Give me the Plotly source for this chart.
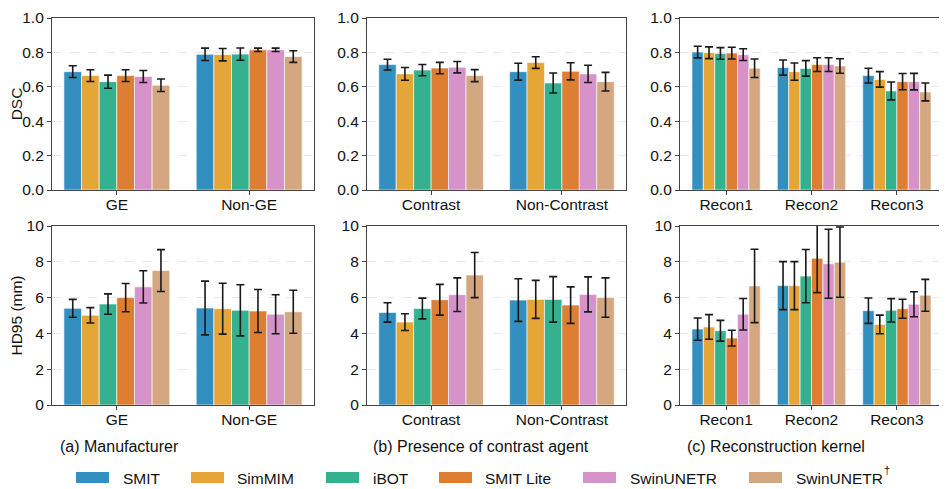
import plotly.graph_objects as go

W, H = 947, 489
OFF = 8  # page body margin offset in the browser

models = ["SMIT", "SimMIM", "iBOT", "SMIT Lite", "SwinUNETR", "SwinUNETR†"]
colors = ["#348fc1", "#e5a537", "#35b18f", "#dd7e33", "#d693c9", "#d5a781"]

cat_manu = ["GE", "Non-GE"]
cat_contrast = ["Contrast", "Non-Contrast"]
cat_recon = ["Recon1", "Recon2", "Recon3"]

# DSC mean / error, per model (rows) per category (cols)
dsc_manu = [[0.688, 0.789], [0.665, 0.787], [0.630, 0.790], [0.665, 0.815], [0.660, 0.815], [0.609, 0.776]]
dsc_manu_err = [[0.034, 0.036], [0.034, 0.036], [0.038, 0.036], [0.034, 0.010], [0.035, 0.010], [0.036, 0.034]]
dsc_con = [[0.729, 0.688], [0.675, 0.741], [0.697, 0.622], [0.709, 0.690], [0.714, 0.675], [0.665, 0.630]]
dsc_con_err = [[0.031, 0.049], [0.037, 0.034], [0.033, 0.058], [0.033, 0.050], [0.033, 0.050], [0.035, 0.054]]
dsc_rec = [[0.802, 0.712, 0.665], [0.798, 0.688, 0.643], [0.794, 0.707, 0.576],
           [0.796, 0.729, 0.630], [0.787, 0.729, 0.630], [0.708, 0.721, 0.570]]
dsc_rec_err = [[0.034, 0.044, 0.043], [0.034, 0.050, 0.045], [0.034, 0.045, 0.052],
               [0.034, 0.040, 0.047], [0.034, 0.040, 0.048], [0.054, 0.042, 0.052]]

# HD95 mean / error
hd_manu = [[5.40, 5.42], [5.01, 5.38], [5.64, 5.29], [6.00, 5.25], [6.60, 5.07], [7.51, 5.21]]
hd_manu_err = [[0.50, 1.50], [0.43, 1.42], [0.57, 1.43], [0.79, 1.20], [0.90, 1.09], [1.17, 1.20]]
hd_con = [[5.17, 5.86], [4.63, 5.90], [5.39, 5.90], [5.88, 5.58], [6.16, 6.18], [7.26, 6.00]]
hd_con_err = [[0.54, 1.19], [0.47, 1.06], [0.58, 1.27], [0.86, 1.02], [0.94, 0.98], [1.26, 1.10]]
hd_rec = [[4.24, 6.67, 5.27], [4.36, 6.67, 4.50], [4.15, 7.20, 5.29],
          [3.74, 8.20, 5.38], [5.07, 7.89, 5.63], [6.65, 7.98, 6.13]]
hd_rec_err = [[0.62, 1.34, 0.71], [0.69, 1.34, 0.52], [0.58, 1.49, 0.65],
              [0.44, 1.92, 0.53], [0.88, 1.93, 0.70], [2.05, 1.96, 0.89]]

captions = ["(a) Manufacturer", "(b) Presence of contrast agent", "(c) Reconstruction kernel"]


def px(x):
    return (x - OFF) / W


def py(y):
    return (H - (y - OFF)) / H


# layout (target pixels in the screenshot)
col_px = [(52, 314), (367, 626), (680, 943)]
row_px = [(18, 190), (226, 405)]

panels = [
    (0, 0, cat_manu, dsc_manu, dsc_manu_err),
    (0, 1, cat_contrast, dsc_con, dsc_con_err),
    (0, 2, cat_recon, dsc_rec, dsc_rec_err),
    (1, 0, cat_manu, hd_manu, hd_manu_err),
    (1, 1, cat_contrast, hd_con, hd_con_err),
    (1, 2, cat_recon, hd_rec, hd_rec_err),
]

fig = go.Figure()
FONT = "Liberation Sans, Arial, sans-serif"
AXC = "#444444"

for idx, (r, c, cats, vals, errs) in enumerate(panels):
    n = idx + 1
    xa = "x" if n == 1 else f"x{n}"
    ya = "y" if n == 1 else f"y{n}"
    for m, name in enumerate(models):
        fig.add_trace(go.Bar(
            x=cats, y=vals[m], name=name, xaxis=xa, yaxis=ya,
            marker=dict(color=colors[m], line=dict(color="rgba(255,255,255,0.6)", width=1)),
            error_y=dict(type="data", array=errs[m], color="#1a1a1a", thickness=1.6, width=4),
            showlegend=False, offsetgroup=str(m),
        ))
    x0, x1 = col_px[c]
    y0, y1 = row_px[r]
    span = len(cats) - 1 + 0.8
    marg = 0.05 * span
    xr = [-0.4 - marg, len(cats) - 1 + 0.4 + marg]
    axkey = "xaxis" if n == 1 else f"xaxis{n}"
    aykey = "yaxis" if n == 1 else f"yaxis{n}"
    fig.layout[axkey] = dict(
        domain=[px(x0), px(x1)], anchor=ya, range=xr, automargin=False,
        showline=True, mirror=True, linecolor=AXC, linewidth=1.2,
        ticks="outside", ticklen=4, tickcolor=AXC, ticklabelstandoff=-4,
        tickfont=dict(size=15.5, color="#111", family=FONT), showgrid=False,
    )
    if r == 0:
        yd = dict(range=[0, 1.0], tickvals=[0, 0.2, 0.4, 0.6, 0.8, 1.0],
                  ticktext=["0.0", "0.2", "0.4", "0.6", "0.8", "1.0"])
    else:
        yd = dict(range=[0, 10], tickvals=[0, 2, 4, 6, 8, 10])
    yd.update(
        domain=[py(y1), py(y0)], anchor=xa, automargin=False,
        showline=True, mirror=True, linecolor=AXC, linewidth=1.2,
        ticks="outside", ticklen=4, tickcolor=AXC, ticklabeloverflow="allow",
        tickfont=dict(size=15.5, color="#111", family=FONT),
        showgrid=True, gridcolor="#e8e8e8", griddash="dash", gridwidth=1,
        zeroline=False,
    )
    if c == 0:
        yd["title"] = dict(text="DSC" if r == 0 else "HD95 (mm)",
                           font=dict(size=15.5, color="#111", family=FONT), standoff=8)
    fig.layout[aykey] = yd

# captions
cap_x = [58, 371, 685]
for t, xp in zip(captions, cap_x):
    fig.add_annotation(text=t, x=px(xp), y=py(446), xref="paper", yref="paper",
                       xanchor="left", yanchor="middle", showarrow=False,
                       font=dict(size=16, color="#111", family=FONT))

# legend (manual, wide swatches)
sw_x = [76, 191, 326, 439, 583, 749]
txt_x = [121, 235, 371, 483, 628, 794]
for name, col, sx, tx in zip(models, colors, sw_x, txt_x):
    fig.add_shape(type="rect", xref="paper", yref="paper",
                  x0=px(sx), x1=px(sx + 33), y0=py(483), y1=py(472),
                  fillcolor=col, line=dict(width=0))
    base = name.rstrip("†")
    fig.add_annotation(text=base, x=px(tx), y=py(478), xref="paper", yref="paper",
                       xanchor="left", yanchor="middle", showarrow=False,
                       font=dict(size=15.5, color="#111", family=FONT))
    if name.endswith("†"):
        fig.add_annotation(text="†", x=px(tx + 88), y=py(470), xref="paper", yref="paper",
                           xanchor="left", yanchor="middle", showarrow=False,
                           font=dict(size=11, color="#111", family=FONT))

fig.update_layout(
    width=W, height=H, margin=dict(l=0, r=0, t=0, b=0),
    barmode="group", bargap=0.2, bargroupgap=0,
    plot_bgcolor="white", paper_bgcolor="white",
    font=dict(family=FONT, color="#111"),
)

fig.write_html("out.html")
